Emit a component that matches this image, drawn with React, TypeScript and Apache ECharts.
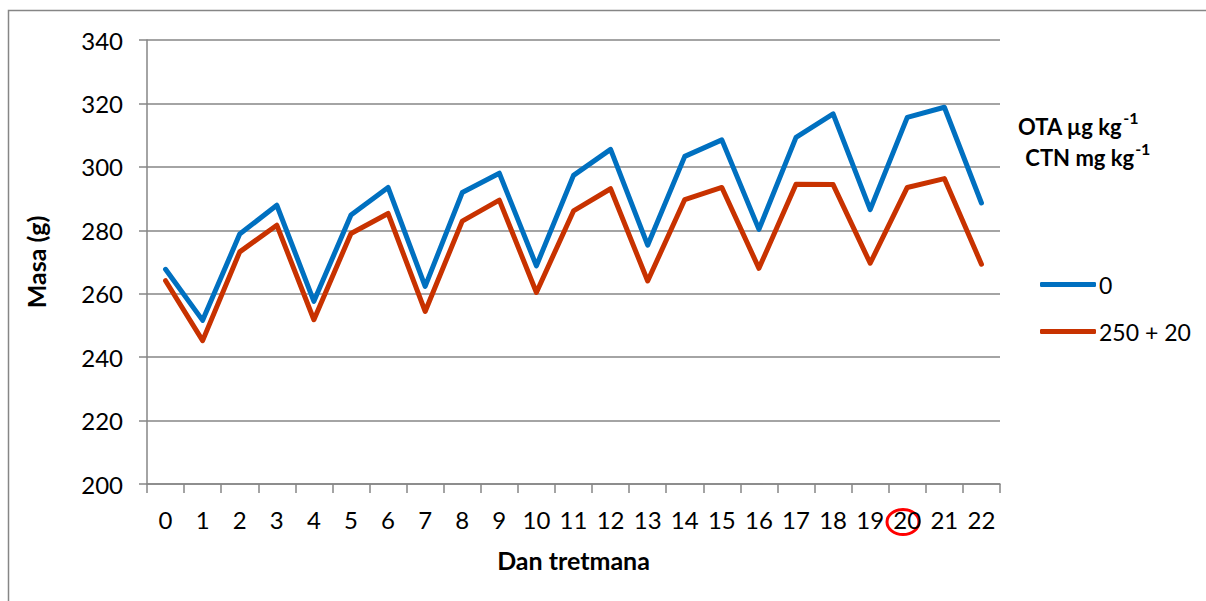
import React, { useEffect, useRef } from 'react';
import * as echarts from 'echarts';

const days = ['0', '1', '2', '3', '4', '5', '6', '7', '8', '9', '10', '11', '12', '13', '14', '15', '16', '17', '18', '19', '20', '21', '22'];
const control0 = [267.7, 251.6, 278.8, 287.9, 257.6, 284.8, 293.5, 262.3, 291.9, 298.0, 268.8, 297.3, 305.5, 275.3, 303.3, 308.5, 280.3, 309.3, 316.7, 286.5, 315.6, 318.8, 288.6];
const treated = [264.1, 245.2, 273.2, 281.6, 251.8, 279.0, 285.3, 254.4, 282.9, 289.5, 260.4, 286.1, 293.1, 264.0, 289.7, 293.5, 268.0, 294.5, 294.4, 269.6, 293.5, 296.3, 269.3];
const seriesNames = ['0', '250 + 20'];
const yMin = 200;
const yMax = 340;
const yStep = 20;
const legendTitleLines = ['OTA µg kg', ' CTN mg kg'];
const legendTitleSup = '-1';

const FONT = 'Lato';
const GRAY = '#868686';
const BLUE = '#0070C0';
const RED = '#C83200';

export default function App() {
  const ref = useRef<HTMLDivElement>(null);
  useEffect(() => {
    document.body.style.margin = '0';
    if (!ref.current) return;
    const chart = echarts.init(ref.current, undefined, { renderer: 'svg' });
    const rich = {
      m: { fontSize: 22, fontWeight: 'bold', fontFamily: FONT, fill: '#000', verticalAlign: 'bottom' },
      s: { fontSize: 16, fontWeight: 'bold', fontFamily: FONT, fill: '#000', verticalAlign: 'top', padding: [0, 0, 12, 1] },
    };
    chart.setOption({
      animation: false,
      backgroundColor: '#ffffff',
      textStyle: { fontFamily: FONT },
      grid: { left: 147, right: 206, top: 40, bottom: 117, containLabel: false },
      legend: {
        orient: 'vertical',
        left: 1040,
        top: 273,
        padding: 0,
        itemWidth: 56,
        itemHeight: 5,
        itemGap: 24,
        icon: 'roundRect',
        data: seriesNames,
        textStyle: { fontSize: 23, color: '#000', fontFamily: FONT, padding: [0, 0, 0, -2] },
      },
      xAxis: {
        type: 'category',
        data: days,
        boundaryGap: true,
        axisLine: { show: true, lineStyle: { color: GRAY, width: 1.5 } },
        axisTick: { show: true, length: 9, lineStyle: { color: GRAY, width: 1.5 } },
        axisLabel: { color: '#000', fontSize: 24, margin: 23, interval: 0, fontFamily: FONT },
        splitLine: { show: false },
        name: 'Dan tretmana',
        nameLocation: 'middle',
        nameGap: 63,
        nameTextStyle: { color: '#000', fontSize: 25, fontWeight: 'bold', fontFamily: FONT },
      },
      yAxis: {
        type: 'value',
        min: yMin,
        max: yMax,
        interval: yStep,
        axisLine: { show: true, lineStyle: { color: GRAY, width: 1.5 } },
        axisTick: { show: true, length: 8, lineStyle: { color: GRAY, width: 1.5 } },
        axisLabel: { color: '#000', fontSize: 24, margin: 24, fontFamily: FONT },
        splitLine: { show: true, lineStyle: { color: GRAY, width: 1.5 } },
        name: 'Masa (g)',
        nameLocation: 'middle',
        nameGap: 99,
        nameTextStyle: { color: '#000', fontSize: 25, fontWeight: 'bold', fontFamily: FONT },
      },
      series: [
        {
          name: seriesNames[0],
          type: 'line',
          data: control0,
          symbol: 'none',
          showSymbol: false,
          itemStyle: { color: BLUE },
          lineStyle: { color: BLUE, width: 5, cap: 'round', join: 'round' },
        },
        {
          name: seriesNames[1],
          type: 'line',
          data: treated,
          symbol: 'none',
          showSymbol: false,
          itemStyle: { color: RED },
          lineStyle: { color: RED, width: 5, cap: 'round', join: 'round' },
        },
      ],
      graphic: [
        {
          type: 'rect',
          shape: { x: 8.5, y: 10.5, width: 1400, height: 800 },
          style: { fill: 'none', stroke: GRAY, lineWidth: 1.5 },
          silent: true,
        },
        {
          type: 'text',
          left: 1018,
          top: 109,
          style: { text: `{m|${legendTitleLines[0]}}{s|${legendTitleSup}}`, rich },
        },
        {
          type: 'text',
          left: 1020,
          top: 140,
          style: { text: `{m|${legendTitleLines[1]}}{s|${legendTitleSup}}`, rich },
        },
        {
          type: 'ellipse',
          shape: { cx: 903, cy: 522, rx: 16, ry: 12.5 },
          style: { fill: 'none', stroke: '#FF0000', lineWidth: 3 },
          silent: true,
        },
      ],
    });
    return () => chart.dispose();
  }, []);
  return <div ref={ref} style={{ width: 1206, height: 601 }} />;
}
